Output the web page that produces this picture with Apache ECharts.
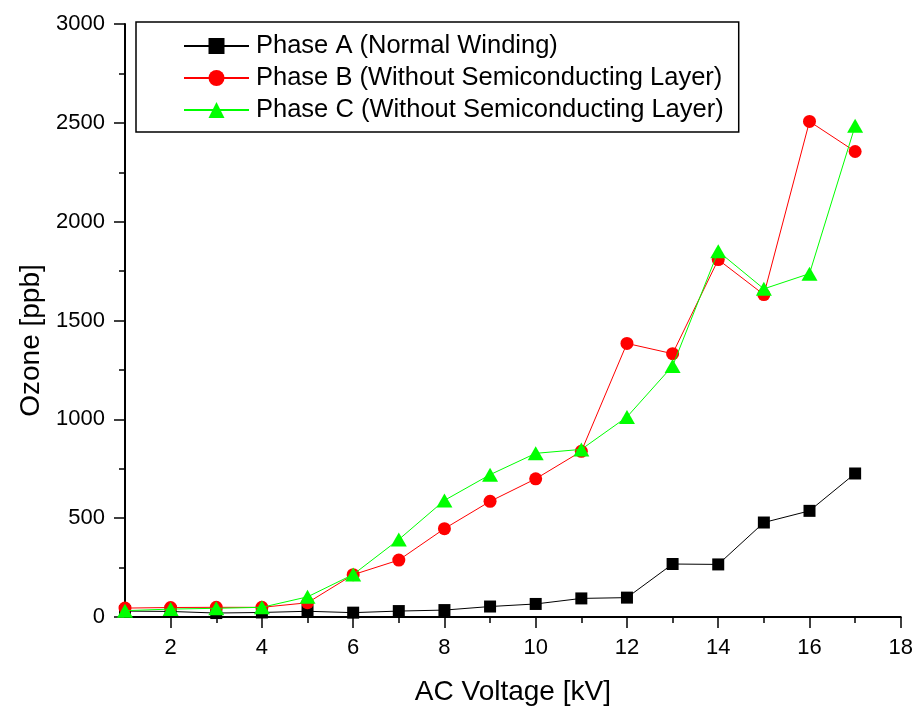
<!DOCTYPE html>
<html>
<head>
<meta charset="utf-8">
<script src="https://cdn.jsdelivr.net/npm/echarts@6/dist/echarts.min.js"></script>
<style>
  html, body { margin: 0; padding: 0; background: #fff; }
  #chart { width: 916px; height: 711px; }
</style>
</head>
<body>
<div id="chart"></div>
<script>
// Ozone concentration versus applied AC voltage for the three winding phases
const voltage = [1, 2, 3, 4, 5, 6, 7, 8, 9, 10, 11, 12, 13, 14, 15, 16, 17];
const phaseA = [30, 28, 20, 23, 29, 22, 30, 35, 53, 66, 94, 98, 268, 266, 478, 537, 726];
const phaseB = [45, 48, 49, 49, 72, 214, 288, 447, 585, 699, 838, 1384, 1332, 1808, 1631, 2507, 2355];
const phaseC = [32, 40, 44, 49, 102, 215, 392, 590, 720, 828, 848, 1012, 1270, 1850, 1660, 1737, 2485];

const majorX = [2, 4, 6, 8, 10, 12, 14, 16, 18];
const minorX = [3, 5, 7, 9, 11, 13, 15, 17];

const seriesNames = [
  'Phase A (Normal Winding)',
  'Phase B (Without Semiconducting Layer)',
  'Phase C (Without Semiconducting Layer)'
];

const FONT = 'Liberation Sans, Arial, Helvetica, sans-serif';

function pairs(ys) {
  return voltage.map((v, i) => [v, ys[i]]);
}

const chart = echarts.init(document.getElementById('chart'), null, { renderer: 'canvas' });

chart.setOption({
  backgroundColor: '#ffffff',
  animation: false,
  textStyle: { fontFamily: FONT },
  grid: { left: 125, right: 11, top: 24, bottom: 93, containLabel: false },
  legend: {
    orient: 'vertical',
    left: 136,
    top: 22,
    padding: [11, 15, 9, 47],
    itemWidth: 65,
    itemHeight: 20,
    itemGap: 6,
    borderColor: '#000',
    borderWidth: 1.5,
    backgroundColor: '#fff',
    textStyle: { fontFamily: FONT, fontSize: 25.5, color: '#000', lineHeight: 25, padding: [0, 0, 0, 2] },
    data: seriesNames
  },
  xAxis: [
    {
      type: 'value',
      position: 'bottom',
      min: 1,
      max: 18,
      interval: 1,
      name: 'AC Voltage [kV]',
      nameLocation: 'middle',
      nameGap: 61,
      nameTextStyle: { fontFamily: FONT, fontSize: 28, color: '#000' },
      axisLine: { show: true, onZero: false, lineStyle: { color: '#000', width: 2 } },
      axisTick: { show: true, inside: false, length: 11, customValues: majorX, lineStyle: { color: '#000', width: 1.5 } },
      axisLabel: { show: true, margin: 20, customValues: majorX, fontFamily: FONT, fontSize: 22, color: '#000' },
      splitLine: { show: false }
    },
    {
      type: 'value',
      position: 'bottom',
      min: 1,
      max: 18,
      interval: 1,
      axisLine: { show: false },
      axisTick: { show: true, inside: false, length: 6, customValues: minorX, lineStyle: { color: '#000', width: 1.5 } },
      axisLabel: { show: false },
      splitLine: { show: false }
    }
  ],
  yAxis: {
    type: 'value',
    min: 0,
    max: 3000,
    interval: 500,
    name: 'Ozone [ppb]',
    nameLocation: 'middle',
    nameGap: 76,
    nameTextStyle: { fontFamily: FONT, fontSize: 28, color: '#000', padding: [0, 40, 0, 0] },
    axisLine: { show: true, onZero: false, lineStyle: { color: '#000', width: 2 } },
    axisTick: { show: true, inside: false, length: 11, lineStyle: { color: '#000', width: 1.5 } },
    minorTick: { show: true, splitNumber: 2, length: 6, lineStyle: { color: '#000', width: 1.5 } },
    axisLabel: { margin: 20, fontFamily: FONT, fontSize: 22, color: '#000', formatter: (v) => String(v) },
    splitLine: { show: false },
    minorSplitLine: { show: false }
  },
  series: [
    {
      name: seriesNames[0],
      type: 'line',
      xAxisIndex: 0,
      data: pairs(phaseA),
      symbol: 'rect',
      symbolSize: 12,
      itemStyle: { color: '#000000' },
      lineStyle: { color: '#000000', width: 1 },
      z: 2
    },
    {
      name: seriesNames[1],
      type: 'line',
      xAxisIndex: 0,
      data: pairs(phaseB),
      symbol: 'circle',
      symbolSize: 13,
      itemStyle: { color: '#ff0000' },
      lineStyle: { color: '#ff0000', width: 1 },
      z: 3
    },
    {
      name: seriesNames[2],
      type: 'line',
      xAxisIndex: 0,
      data: pairs(phaseC),
      symbol: 'triangle',
      symbolSize: [16, 14],
      itemStyle: { color: '#00ff00' },
      lineStyle: { color: '#00ff00', width: 1 },
      z: 4
    }
  ]
});
</script>
</body>
</html>
